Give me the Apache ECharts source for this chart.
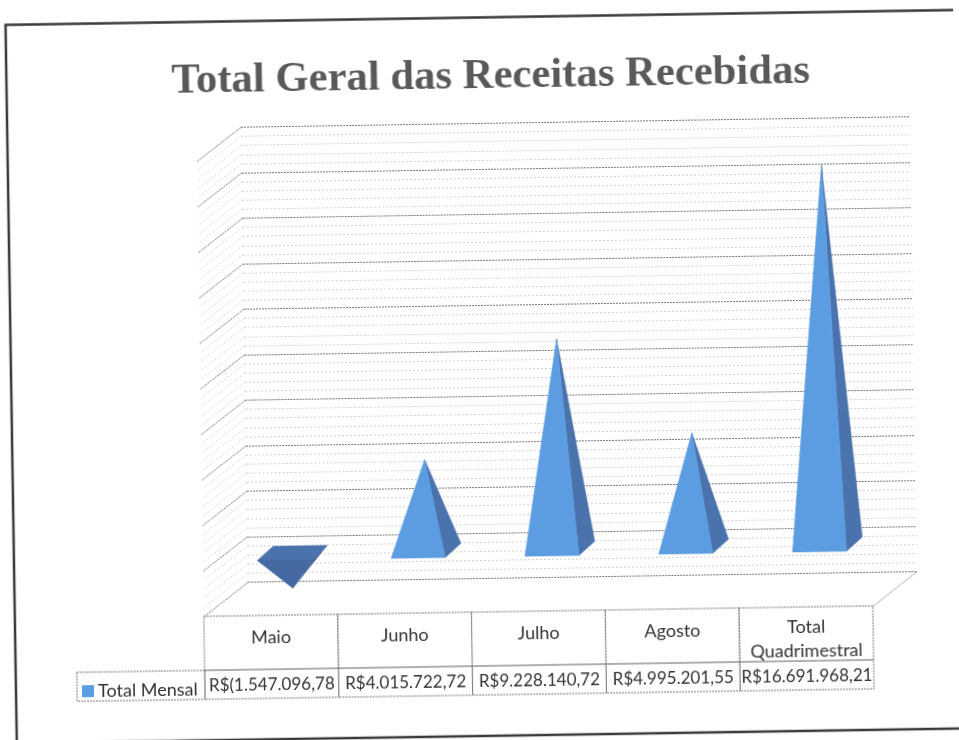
<!DOCTYPE html>
<html>
<head>
<meta charset="utf-8">
<style>
html,body{margin:0;padding:0;background:#fff;overflow:hidden;width:959px;height:740px}
#chart{width:959px;height:740px;transform:rotate(-0.9deg);transform-origin:479.5px 370px}
</style>
<script src="https://cdn.jsdelivr.net/npm/echarts@6/dist/echarts.min.js"></script>
</head>
<body>
<div id="chart"></div>
<script>
var titleText = 'Total Geral das Receitas Recebidas';
var seriesName = 'Total Mensal';
var categories = ['Maio', 'Junho', 'Julho', 'Agosto', 'Total\nQuadrimestral'];
var values = [-1547096.78, 4015722.72, 9228140.72, 4995201.55, 16691968.21];
var valueLabels = ['R$(1.547.096,78', 'R$4.015.722,72', 'R$9.228.140,72', 'R$4.995.201,55', 'R$16.691.968,21'];
var axisMin = -2000000, axisMax = 18000000, axisStep = 2000000;
var wallMajor = [-2000000, 0, 2000000, 4000000, 6000000, 8000000, 10000000, 12000000, 14000000, 16000000, 18000000];
var wallMinorSteps = [400000, 800000, 1200000, 1600000];

var DEPTH = [-45, 34];
var LIGHT = '#5c9de2', DARK = '#4a72ad', DARK2 = '#4469a3', DARK3 = '#47699e';
var TEXT = '#333333', TABLE_LINE = '#777';

var chart = echarts.init(document.getElementById('chart'), null, {renderer: 'canvas'});

function poly(points, fill) {
  return {type: 'polygon', shape: {points: points}, style: {fill: fill, stroke: fill, lineWidth: 0.5}};
}
function renderPyramid(params, api) {
  var i = api.value(0), v = api.value(1);
  var zero = api.coord([i, 0]), tip = api.coord([i, v]);
  var mx = DEPTH[0] / 2, my = DEPTH[1] / 2;
  var c = [zero[0] + mx, zero[1] + my];
  var apex = [tip[0] + mx, tip[1] + my];
  var FL = [c[0] - 35, c[1] + 7], FR = [c[0] + 19, c[1] + 7];
  var BR = [c[0] + 35, c[1] - 7], BL = [c[0] - 19, c[1] - 7];
  var children;
  if (v < 0) {
    children = [
      poly([FL, BL, BR, FR], DARK),
      poly([FL, FR, apex], DARK2),
      poly([FR, BR, apex], DARK3)
    ];
  } else {
    children = [poly([FR, BR, apex], DARK), poly([FL, FR, apex], LIGHT)];
  }
  return {type: 'group', children: children};
}
function renderWall(params, api) {
  var v = api.value(0), major = api.value(1);
  var p = api.coord([0, v]);
  var x = params.coordSys.x;
  return {type: 'line',
    shape: {x1: x, y1: p[1], x2: x + DEPTH[0], y2: p[1] + DEPTH[1]},
    style: {stroke: major ? '#777777' : '#d6d6d6', lineWidth: 1, lineDash: major ? [2, 1] : [2, 2]}};
}
function renderFloorEdge(params, api) {
  var cs = params.coordSys;
  var y = api.coord([0, axisMin])[1];
  var x = cs.x + cs.width;
  return {type: 'line',
    shape: {x1: x, y1: y, x2: x + DEPTH[0], y2: y + DEPTH[1]},
    style: {stroke: '#8a8a8a', lineWidth: 1, lineDash: [2, 1]}};
}
function renderCell(params, api) {
  var i = api.value(0);
  var c = api.coord([i, 1]);
  var w = api.size([1, 0])[0];
  var cs = params.coordSys;
  var x0 = c[0] - w / 2;
  var split = cs.y + 54;
  var bottom = cs.y + cs.height;
  var border = {stroke: TABLE_LINE, lineWidth: 1, lineDash: [2, 1], fill: 'none'};
  var twoLines = categories[i].indexOf('\n') >= 0;
  return {type: 'group', children: [
    {type: 'rect', shape: {x: x0, y: cs.y, width: w, height: 54}, style: border},
    {type: 'rect', shape: {x: x0, y: split, width: w, height: bottom - split}, style: border},
    {type: 'text', style: {text: categories[i], x: c[0], y: cs.y + (twoLines ? 32 : 22), align: 'center', verticalAlign: 'middle',
      font: '18px Lato', fill: TEXT, lineHeight: 24}},
    {type: 'text', style: {text: valueLabels[i], x: c[0], y: split + 16, align: 'center', verticalAlign: 'middle',
      font: '17px Lato', fill: TEXT}}
  ]};
}

var option = {
  backgroundColor: '#ffffff',
  animation: false,
  title: {text: titleText, left: 171, top: 50,
    textStyle: {fontFamily: 'Liberation Serif', fontWeight: 'bold', fontSize: 42.7, color: '#5c5858'}},
  legend: {left: 72, top: 671, itemWidth: 12, itemHeight: 12, itemGap: 4, selectedMode: false,
    data: [{name: seriesName, icon: 'rect', itemStyle: {color: LIGHT}}],
    textStyle: {fontFamily: 'Lato', fontSize: 18, color: TEXT, padding: [0, 0, 0, -1]}},
  grid: [
    {left: 245, right: 45, top: 123.5, height: 455},
    {left: 200, width: 669, top: 612, height: 83}
  ],
  xAxis: [
    {gridIndex: 0, type: 'category', data: categories, show: false},
    {gridIndex: 1, type: 'category', data: categories, show: false}
  ],
  yAxis: [
    {gridIndex: 0, type: 'value', min: axisMin, max: axisMax, interval: axisStep,
      axisLine: {show: false}, axisTick: {show: false}, axisLabel: {show: false},
      splitLine: {show: true, lineStyle: {color: '#777777', width: 1.2, type: [2, 1]}},
      minorTick: {show: false, splitNumber: 5},
      minorSplitLine: {show: true, lineStyle: {color: '#d0d0d0', width: 1, type: [2, 2]}}},
    {gridIndex: 1, type: 'value', min: 0, max: 1, show: false}
  ],
  graphic: [
    {type: 'rect', silent: true, z: -1, shape: {x: 11, y: 17.5, width: 1000, height: 718.5},
      style: {fill: 'none', stroke: '#3a3a3a', lineWidth: 2.5}},
    {type: 'rect', silent: true, shape: {x: 72, y: 666, width: 128, height: 29},
      style: {fill: 'none', stroke: TABLE_LINE, lineWidth: 1, lineDash: [2, 1]}}
  ],
  series: [
    {type: 'custom', name: 'wall', xAxisIndex: 0, yAxisIndex: 0, clip: false, silent: true, z: 2,
      renderItem: renderWall, encode: {y: 0},
      data: wallMajor.map(function (v) { return [v, 1]; }).concat(
        wallMajor.slice(0, -1).reduce(function (acc, v) {
          return acc.concat(wallMinorSteps.map(function (s) { return [v + s, 0]; }));
        }, []))},
    {type: 'custom', name: 'floor', xAxisIndex: 0, yAxisIndex: 0, clip: false, silent: true, z: 2,
      renderItem: renderFloorEdge, data: [[0]]},
    {type: 'custom', name: seriesName, xAxisIndex: 0, yAxisIndex: 0, clip: false, z: 5,
      itemStyle: {color: LIGHT}, renderItem: renderPyramid,
      encode: {x: 0, y: 1},
      data: values.map(function (v, i) { return [i, v]; })},
    {type: 'custom', name: 'table', xAxisIndex: 1, yAxisIndex: 1, clip: false, silent: true, z: 3,
      renderItem: renderCell, encode: {x: 0},
      data: categories.map(function (c, i) { return [i]; })}
  ]
};
chart.setOption(option);
</script>
</body>
</html>
